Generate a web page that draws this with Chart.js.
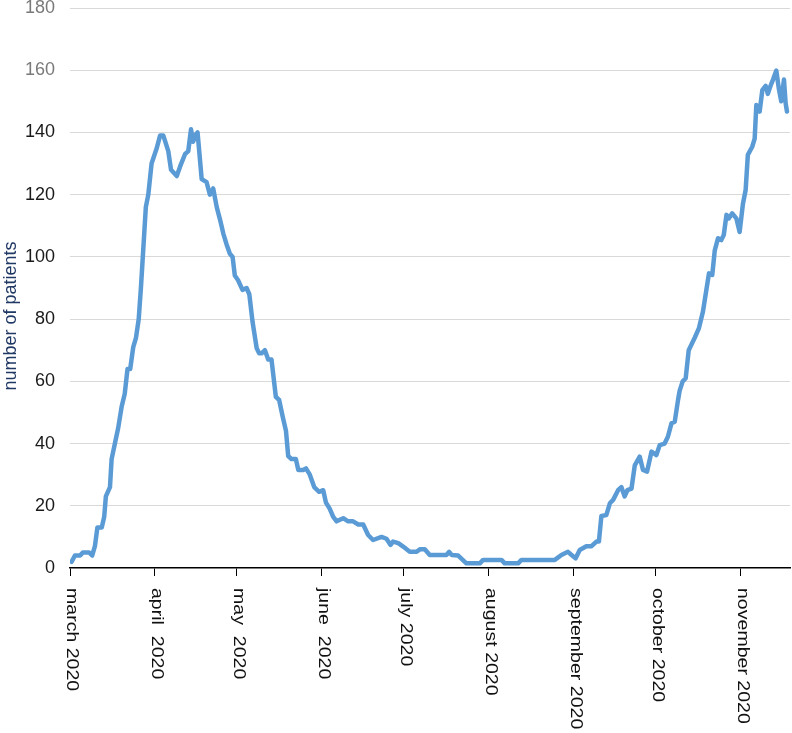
<!DOCTYPE html>
<html>
<head>
<meta charset="utf-8">
<script src="https://cdn.jsdelivr.net/npm/chart.js@4/dist/chart.umd.min.js"></script>
<style>
html, body { margin: 0; padding: 0; background: #fff; }
#chart { display: block; }
</style>
</head>
<body>
<canvas id="chart" width="792" height="733"></canvas>
<script>
// --- Data ---

// days since 1 March 2020
const dayOffsets = [
  0.6, 1.8, 3.7, 4.7, 7, 8.1, 9.1, 10, 11.6, 12.5, 13.1, 14.6, 15.2, 16.4, 17.6, 18.9, 20, 21, 22, 23.1,
  24.1, 25.1, 25.9, 26.8, 27.7, 28.6, 29.8, 31.7, 32.9, 34.1, 35.9, 36.9, 39, 40.2, 42, 43.2, 44.2, 45, 45.6, 46.6,
  48.1, 49.9, 51.1, 52.3, 53.6, 54.8, 56, 57.2, 58.4, 59.4, 60.2, 61.4, 63, 64.5, 65.5, 66.7, 68.2, 69.1, 70, 71.2,
  72.4, 73.6, 75.2, 76.4, 77.7, 78.9, 79.7, 80.9, 82.5, 83.4, 85.2, 86.2, 87.6, 89.2, 91, 92.5, 93.5, 94.9, 96.1, 97.4,
  99.8, 101.6, 103.4, 105.3, 107.1, 108.9, 110.7, 113.8, 115.6, 117.1, 118, 119.9, 121.7, 124.1, 126.6, 127.8, 129.6, 131.4, 137.5, 138.5,
  139.4, 141.8, 144.8, 149.7, 150.9, 157.6, 158.8, 163.7, 164.9, 177.1, 179.5, 181.9, 183.2, 184.7, 186.2, 188.6, 190.5, 192.3, 193.2, 194.1,
  195.9, 197.2, 198.4, 200.2, 201.4, 202.6, 203.6, 205.1, 206.3, 208.1, 209.3, 210.8, 212.4, 214.2, 215.4, 217.2, 218.4, 219.7, 220.9, 222.1,
  222.7, 223.8, 224.9, 226, 227.1, 228.2, 229.7, 231.2, 233.4, 234.6, 235.5, 236.7, 237.9, 238.8, 239.8, 240.7, 241.9, 243.4, 244.6, 245.8,
  246.8, 247.6, 249.2, 250.1, 250.7, 251.9, 252.9, 254.1, 254.9, 255.9, 256.8, 258, 258.9, 259.8, 260.8, 261.4, 261.9
];

const patients = [
  2, 4, 4, 5, 5, 4, 7, 13, 13, 16.5, 23, 26, 35, 40, 45, 52, 56, 64, 64, 71,
  74, 80, 90, 103, 116, 120, 130, 135, 139, 139, 134, 128, 126, 129, 133, 134, 141, 137, 139, 140,
  125, 124, 120, 122, 116, 112, 107.5, 104, 101, 100, 94, 92.5, 89.4, 90, 88, 79, 70.6, 69, 69, 70,
  67, 67, 55, 54, 48.6, 44, 36, 35, 35, 31.5, 31.5, 32, 30, 26, 24.5, 25, 21, 19, 16.5, 15,
  16, 15, 15, 14, 14, 10.6, 9, 10, 9.4, 7.4, 8.5, 8, 6.9, 5.2, 5.2, 6, 6, 4.2, 4.2, 5.2,
  4.2, 4, 1.5, 1.5, 2.6, 2.6, 1.5, 1.5, 2.6, 2.6, 4.2, 5.2, 4.2, 3.1, 5.8, 7, 7, 8.5, 8.5, 16.7,
  17, 20.8, 21.9, 25, 26, 23, 25, 25.5, 33, 35.8, 31.5, 31, 37.4, 36.3, 39.5, 40, 42.2, 46.5, 47, 54,
  57, 60, 61, 70, 72, 74, 77, 82.4, 94.7, 94.2, 102, 106, 105.4, 107, 113.5, 112.4, 114, 112.4, 108, 117,
  121.5, 132.8, 135.4, 138, 148.8, 146.7, 153.6, 155, 152.4, 155, 157, 159.9, 154.2, 150, 157, 149.4, 146.7
];

const monthStartDays = [0, 31, 61, 92, 122, 153, 184, 214, 245];
const monthLabels = [
  'march 2020', 'april  2020', 'may  2020', 'june  2020', 'july 2020',
  'august 2020', 'september 2020', 'october 2020', 'november 2020'
];

const yTitle = 'number of patients';
const FONT = '"Liberation Sans", Arial, sans-serif';

// --- Custom drawing: clockwise month labels + y title ---

const labelsPlugin = {
  id: 'labels',
  afterDraw(chart) {
    const ctx = chart.ctx, xs = chart.scales.x, area = chart.chartArea;
    ctx.save();
    ctx.font = '17px ' + FONT;
    ctx.fillStyle = '#111';
    ctx.textAlign = 'left';
    ctx.textBaseline = 'alphabetic';
    monthStartDays.forEach((d, i) => {
      const x = xs.getPixelForValue(d);
      ctx.save();
      ctx.translate(x - 3, area.bottom + 20);
      ctx.rotate(Math.PI / 2);
      ctx.scale(1.15, 1);
      ctx.fillText(monthLabels[i], 0, 0);
      ctx.restore();
    });

    ctx.translate(16, 316);
    ctx.rotate(-Math.PI / 2);
    ctx.textAlign = 'center';
    ctx.font = '18px ' + FONT;
    ctx.fillStyle = '#203864';
    ctx.fillText(yTitle, 0, 0);
    ctx.restore();
  }
};

new Chart(document.getElementById('chart'), {
  type: 'line',
  data: {
    datasets: [{
      data: dayOffsets.map((d, i) => ({ x: d, y: patients[i] })),
      borderColor: '#5b9bd5',
      borderWidth: 4.5,
      borderJoinStyle: 'round',
      borderCapStyle: 'round',
      pointRadius: 0,
      tension: 0,
      fill: false
    }]
  },
  options: {
    responsive: false,
    devicePixelRatio: 1,
    animation: false,
    layout: { padding: { top: 8, right: 2, left: 0, bottom: 0 } },
    plugins: { legend: { display: false }, tooltip: { enabled: false } },
    scales: {
      x: {
        type: 'linear', min: 0, max: 263,
        afterBuildTicks: s => { s.ticks = monthStartDays.map(v => ({ value: v })); },
        afterFit: s => { s.height = 165; },
        ticks: { display: false },
        grid: { drawOnChartArea: false, drawTicks: true, tickLength: 8, color: '#000', lineWidth: 1 },
        border: { display: true, color: '#000', width: 1.5 }
      },
      y: {
        min: 0, max: 180,
        afterFit: s => { s.width = 70; s.paddingTop = 0; s.paddingBottom = 0; },
        ticks: {
          stepSize: 20, padding: 15,
          font: { family: FONT, size: 18 },
          color: c => c.tick.value >= 160 ? '#7a7a7a' : '#1a1a1a'
        },
        grid: {
          drawTicks: false,
          color: c => c.tick.value === 0 ? 'rgba(0,0,0,0)' : '#d9d9d9'
        },
        border: { display: false }
      }
    }
  },
  plugins: [labelsPlugin]
});
</script>
</body>
</html>
